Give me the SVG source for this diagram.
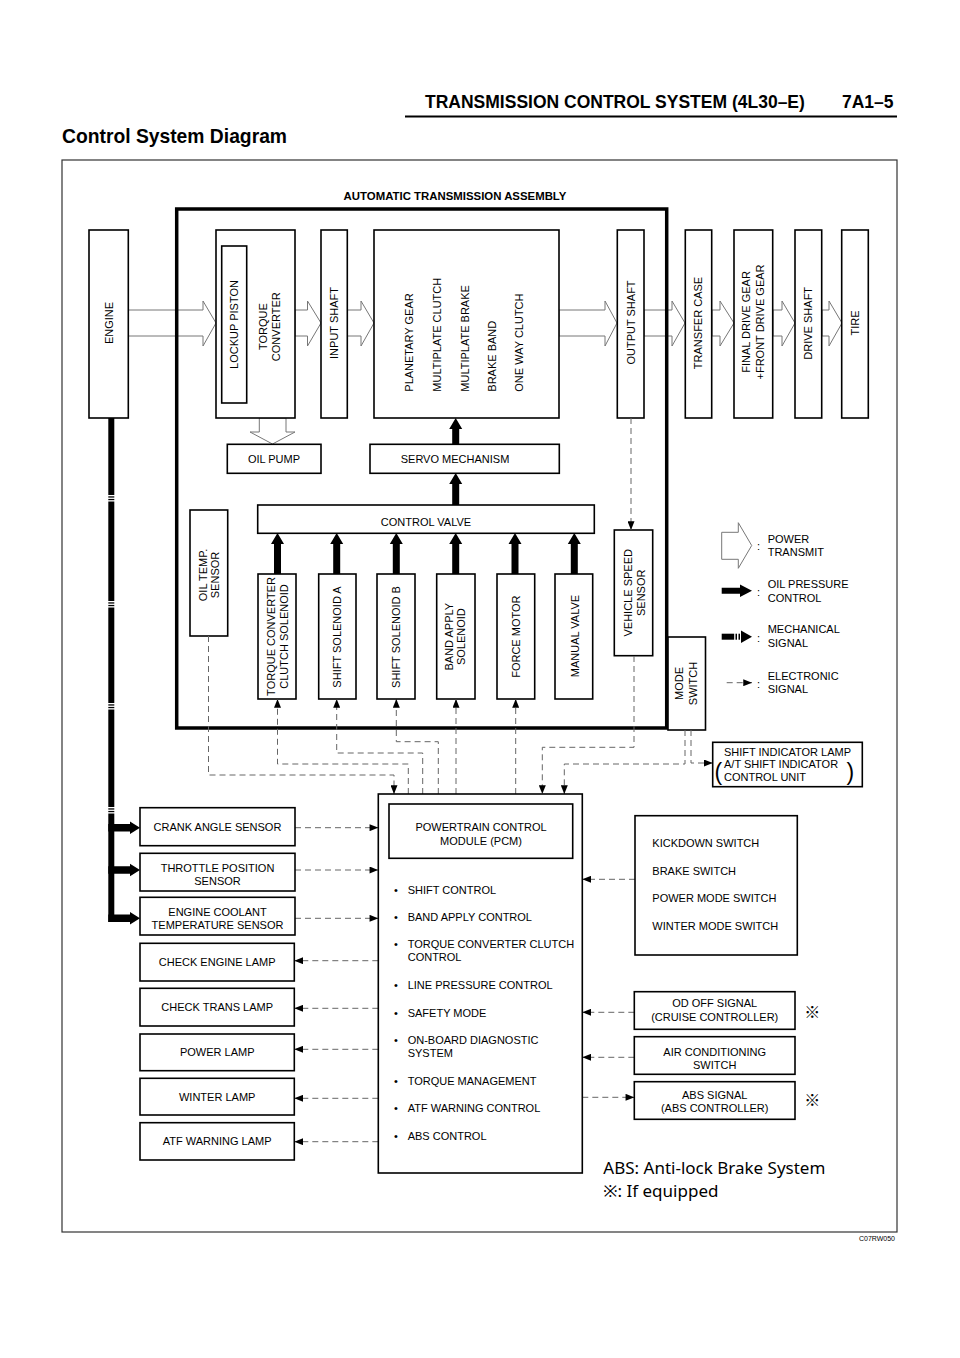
<svg xmlns="http://www.w3.org/2000/svg" width="960" height="1358" viewBox="0 0 960 1358">
<defs>
<style>
text{font-family:"Liberation Sans",Arial,sans-serif;fill:#000}
.t{font-size:11px}
.tm{font-size:11px;text-anchor:middle}
.hb{font-weight:bold}
.box{fill:#fff;stroke:#000;stroke-width:1.6}
.pw{fill:#fff;stroke:#777;stroke-width:1}
.oil{fill:#000}
.el{fill:none;stroke:#666;stroke-width:1;stroke-dasharray:6 4}
</style>
<marker id="ah" viewBox="0 0 10 8" refX="10" refY="4" markerWidth="9" markerHeight="7" orient="auto" markerUnits="userSpaceOnUse"><path d="M0,0 L10,4 L0,8 z" fill="#000"/></marker>
</defs>
<rect width="960" height="1358" fill="#fff"/>

<g id="header">
<text x="425" y="108" class="hb" style="font-size:17.5px">TRANSMISSION CONTROL SYSTEM (4L30–E)</text>
<text x="842" y="108" class="hb" style="font-size:17.5px">7A1–5</text>
<line x1="405" y1="116.5" x2="897" y2="116.5" stroke="#000" stroke-width="2"/>
<text x="62" y="143" class="hb" style="font-size:19.3px">Control System Diagram</text>
</g>

<rect x="62" y="160" width="835" height="1072" fill="none" stroke="#333" stroke-width="1.2"/>

<g id="power-arrows">
<polygon class="pw" points="128,310 203,310 203,301 216,323 203,346 203,336 128,336"/>
<polygon class="pw" points="295,310 307.5,310 307.5,301 321,323 307.5,346 307.5,336 295,336"/>
<polygon class="pw" points="347,310 361,310 361,301 374,323 361,346 361,336 347,336"/>
<polygon class="pw" points="559,310 605,310 605,301 617,323 605,346 605,336 559,336"/>
<polygon class="pw" points="644,310 672,310 672,301 685,323 672,346 672,336 644,336"/>
<polygon class="pw" points="712,310 720,310 720,301 734,323 720,346 720,336 712,336"/>
<polygon class="pw" points="773,310 782,310 782,301 795,323 782,346 782,336 773,336"/>
<polygon class="pw" points="822,310 829,310 829,301 842,323 829,346 829,336 822,336"/>
<polygon class="pw" points="259.3,418 259.3,432 250,432 272.5,444 295,432 286,432 286,418"/>
</g>

<text x="455" y="200" class="tm hb" style="font-size:11.4px">AUTOMATIC TRANSMISSION ASSEMBLY</text>
<rect id="assembly" x="176.7" y="209" width="490" height="519" fill="none" stroke="#000" stroke-width="3.5"/>

<g id="engine"><rect class="box" x="89" y="230" width="39.3" height="188"/>
<text class="tm" dy="0.35em" transform="translate(108.7,323) rotate(-90)">ENGINE</text></g>

<g id="torque-converter"><rect class="box" x="216" y="230" width="79" height="188"/>
<text class="tm" dy="0.35em" transform="translate(263,326.7) rotate(-90)">TORQUE</text>
<text class="tm" dy="0.35em" transform="translate(276,326.7) rotate(-90)">CONVERTER</text></g>
<g id="lockup-piston"><rect class="box" x="221.7" y="246" width="25" height="157"/>
<text class="tm" dy="0.35em" transform="translate(234.2,324.5) rotate(-90)">LOCKUP PISTON</text></g>

<g id="input-shaft"><rect class="box" x="321" y="230" width="26.3" height="188"/>
<text class="tm" dy="0.35em" transform="translate(334.2,323) rotate(-90)">INPUT SHAFT</text></g>

<g id="planetary"><rect class="box" x="374" y="230" width="185" height="188"/>
<text class="t" dy="0.35em" transform="translate(409,391.7) rotate(-90)">PLANETARY GEAR</text>
<text class="t" dy="0.35em" transform="translate(437,391.7) rotate(-90)">MULTIPLATE CLUTCH</text>
<text class="t" dy="0.35em" transform="translate(465,391.7) rotate(-90)">MULTIPLATE BRAKE</text>
<text class="t" dy="0.35em" transform="translate(492.5,391.7) rotate(-90)">BRAKE BAND</text>
<text class="t" dy="0.35em" transform="translate(519.5,391.7) rotate(-90)">ONE WAY CLUTCH</text></g>

<g id="output-shaft"><rect class="box" x="617.3" y="230" width="26.7" height="188"/>
<text class="tm" dy="0.35em" transform="translate(630.7,322.5) rotate(-90)">OUTPUT SHAFT</text></g>

<g id="transfer-case"><rect class="box" x="685.3" y="230" width="26.4" height="188"/>
<text class="tm" dy="0.35em" transform="translate(698.5,323) rotate(-90)">TRANSFER CASE</text></g>

<g id="final-drive"><rect class="box" x="734" y="230" width="38.7" height="188"/>
<text class="tm" dy="0.35em" transform="translate(746.5,322) rotate(-90)">FINAL DRIVE GEAR</text>
<text class="tm" dy="0.35em" transform="translate(760,322) rotate(-90)">+FRONT DRIVE GEAR</text></g>

<g id="drive-shaft"><rect class="box" x="795" y="230" width="26.7" height="188"/>
<text class="tm" dy="0.35em" transform="translate(808.3,323.3) rotate(-90)">DRIVE SHAFT</text></g>

<g id="tire"><rect class="box" x="841.7" y="230" width="26.6" height="188"/>
<text class="tm" dy="0.35em" transform="translate(855,323) rotate(-90)">TIRE</text></g>

<g id="oil-pump"><rect class="box" x="227.3" y="444.3" width="93.7" height="29"/>
<text class="tm" x="274" y="462.8">OIL PUMP</text></g>

<g id="servo"><rect class="box" x="370" y="444.3" width="189.3" height="29"/>
<text class="tm" x="455" y="462.8">SERVO MECHANISM</text></g>

<g id="control-valve"><rect class="box" x="257.7" y="505" width="336.6" height="28.3"/>
<text class="tm" x="426" y="525.5">CONTROL VALVE</text></g>

<g id="oil-temp"><rect class="box" x="190" y="510" width="37.7" height="126"/>
<text class="tm" dy="0.35em" transform="translate(202.7,575) rotate(-90)">OIL TEMP.</text>
<text class="tm" dy="0.35em" transform="translate(215,575) rotate(-90)">SENSOR</text></g>

<g id="tcc-solenoid"><rect class="box" x="258" y="574" width="38" height="125"/>
<text class="tm" dy="0.35em" transform="translate(271.5,636.5) rotate(-90)">TORQUE CONVERTER</text>
<text class="tm" dy="0.35em" transform="translate(284.5,636.5) rotate(-90)">CLUTCH SOLENOID</text></g>

<g id="shift-a"><rect class="box" x="318.7" y="574" width="37.3" height="125"/>
<text class="tm" dy="0.35em" transform="translate(337.3,637) rotate(-90)">SHIFT SOLENOID A</text></g>

<g id="shift-b"><rect class="box" x="377" y="574" width="38" height="125"/>
<text class="tm" dy="0.35em" transform="translate(396,637) rotate(-90)">SHIFT SOLENOID B</text></g>

<g id="band-apply"><rect class="box" x="436.7" y="574" width="38.3" height="125"/>
<text class="tm" dy="0.35em" transform="translate(449,636.7) rotate(-90)">BAND APPLY</text>
<text class="tm" dy="0.35em" transform="translate(461.5,636.7) rotate(-90)">SOLENOID</text></g>

<g id="force-motor"><rect class="box" x="497" y="574" width="37.7" height="125"/>
<text class="tm" dy="0.35em" transform="translate(515.8,636.7) rotate(-90)">FORCE MOTOR</text></g>

<g id="manual-valve"><rect class="box" x="555" y="574" width="37.7" height="125"/>
<text class="tm" dy="0.35em" transform="translate(574.7,636) rotate(-90)">MANUAL VALVE</text></g>

<g id="vss"><rect class="box" x="614.3" y="530" width="38.4" height="125.7"/>
<text class="tm" dy="0.35em" transform="translate(628.3,592.8) rotate(-90)">VEHICLE SPEED</text>
<text class="tm" dy="0.35em" transform="translate(641,592.8) rotate(-90)">SENSOR</text></g>

<g id="mode-switch"><rect class="box" x="668" y="637" width="37.5" height="93"/>
<text class="tm" dy="0.35em" transform="translate(679,683.5) rotate(-90)">MODE</text>
<text class="tm" dy="0.35em" transform="translate(693,683.5) rotate(-90)">SWITCH</text></g>

<g id="oil-arrows">
<polygon class="oil" points="274,574 274,544 271,544 277.5,533 284,544 281,544 281,574"/>
<polygon class="oil" points="333.2,574 333.2,544 330.2,544 336.7,533 343.2,544 340.2,544 340.2,574"/>
<polygon class="oil" points="392.8,574 392.8,544 389.8,544 396.3,533 402.8,544 399.8,544 399.8,574"/>
<polygon class="oil" points="452.2,574 452.2,544 449.2,544 455.7,533 462.2,544 459.2,544 459.2,574"/>
<polygon class="oil" points="511.5,574 511.5,544 508.5,544 515,533 521.5,544 518.5,544 518.5,574"/>
<polygon class="oil" points="570.8,574 570.8,544 567.8,544 574.3,533 580.8,544 577.8,544 577.8,574"/>
<polygon class="oil" points="452.2,505 452.2,484 449.2,484 455.7,473 462.2,484 459.2,484 459.2,505"/>
<polygon class="oil" points="452.2,444 452.2,429 449.2,429 455.7,418 462.2,429 459.2,429 459.2,444"/>
</g>

<g id="mechanical">
<rect x="108.3" y="418" width="6" height="504" fill="#000"/>
<g fill="#fff">
<rect x="107" y="495" width="9" height="1.3"/><rect x="107" y="497.6" width="9" height="1.3"/><rect x="107" y="500.2" width="9" height="1.3"/>
<rect x="107" y="601" width="9" height="1.3"/><rect x="107" y="603.6" width="9" height="1.3"/><rect x="107" y="606.2" width="9" height="1.3"/>
<rect x="107" y="703" width="9" height="1.3"/><rect x="107" y="705.6" width="9" height="1.3"/><rect x="107" y="708.2" width="9" height="1.3"/>
<rect x="107" y="807" width="9" height="1.3"/><rect x="107" y="809.6" width="9" height="1.3"/><rect x="107" y="812.2" width="9" height="1.3"/>
</g>
<polygon class="oil" points="108.3,824 130,824 130,821.5 140,827.7 130,834 130,831.5 108.3,831.5"/>
<polygon class="oil" points="108.3,866.3 130,866.3 130,863.8 140,870 130,876.3 130,873.8 108.3,873.8"/>
<polygon class="oil" points="108.3,914.5 130,914.5 130,912 140,918.3 130,924.5 130,922 108.3,922"/>
</g>

<g id="connectors">
<path class="el" d="M631,418 V530" marker-end="url(#ah)"/>
<path class="el" d="M208.5,636 V775 H394 V794" marker-end="url(#ah)"/>
<path class="el" d="M408.3,794 V764 H277.5 V699" marker-end="url(#ah)"/>
<path class="el" d="M422.7,794 V753 H336.7 V699" marker-end="url(#ah)"/>
<path class="el" d="M438.3,794 V741.7 H396.3 V699" marker-end="url(#ah)"/>
<path class="el" d="M456,794 V699" marker-end="url(#ah)"/>
<path class="el" d="M515.7,794 V699" marker-end="url(#ah)"/>
<path class="el" d="M634,656 V747.3 H542.3 V794" marker-end="url(#ah)"/>
<path class="el" d="M685,730 V764 H564.3 V794" marker-end="url(#ah)"/>
<path class="el" d="M691,730 V763 H712.7" marker-end="url(#ah)"/>
<path class="el" d="M295,827.7 H378.3" marker-end="url(#ah)"/>
<path class="el" d="M295,870 H378.3" marker-end="url(#ah)"/>
<path class="el" d="M295,918.3 H378.3" marker-end="url(#ah)"/>
<path class="el" d="M378.3,960.7 H294.3" marker-end="url(#ah)"/>
<path class="el" d="M378.3,1008.3 H294.3" marker-end="url(#ah)"/>
<path class="el" d="M378.3,1049.3 H294.3" marker-end="url(#ah)"/>
<path class="el" d="M378.3,1098.3 H294.3" marker-end="url(#ah)"/>
<path class="el" d="M378.3,1141.7 H294.3" marker-end="url(#ah)"/>
<path class="el" d="M635,879.3 H582.3" marker-end="url(#ah)"/>
<path class="el" d="M634.3,1012.3 H582.3" marker-end="url(#ah)"/>
<path class="el" d="M634.3,1057.3 H582.3" marker-end="url(#ah)"/>
<path class="el" d="M582.3,1097.3 H634.3" marker-end="url(#ah)"/>
</g>

<g id="shift-indicator-lamp"><rect class="box" x="712.7" y="742.3" width="149.6" height="44.4"/>
<text class="tm" x="787.5" y="755.5">SHIFT INDICATOR LAMP</text>
<text class="t" x="724" y="768.3">A/T SHIFT INDICATOR</text>
<text class="t" x="724" y="780.5">CONTROL UNIT</text>
<text x="714.5" y="780" style="font-size:23px;font-weight:300">(</text>
<text x="846.5" y="780" style="font-size:23px;font-weight:300">)</text></g>

<g id="crank"><rect class="box" x="140" y="807.7" width="155" height="38"/>
<text class="tm" x="217.5" y="830.7">CRANK ANGLE SENSOR</text></g>
<g id="throttle"><rect class="box" x="140" y="853.3" width="155" height="37.7"/>
<text class="tm" x="217.5" y="872">THROTTLE POSITION</text>
<text class="tm" x="217.5" y="885">SENSOR</text></g>
<g id="coolant"><rect class="box" x="140" y="897.3" width="155" height="37.7"/>
<text class="tm" x="217.5" y="915.5">ENGINE COOLANT</text>
<text class="tm" x="217.5" y="929">TEMPERATURE SENSOR</text></g>

<g id="check-engine"><rect class="box" x="140" y="943.3" width="154.3" height="37.7"/>
<text class="tm" x="217.2" y="966">CHECK ENGINE LAMP</text></g>
<g id="check-trans"><rect class="box" x="140" y="988.3" width="154.3" height="37.7"/>
<text class="tm" x="217.2" y="1011">CHECK TRANS LAMP</text></g>
<g id="power-lamp"><rect class="box" x="140" y="1034" width="154.3" height="36.7"/>
<text class="tm" x="217.2" y="1056.3">POWER LAMP</text></g>
<g id="winter-lamp"><rect class="box" x="140" y="1078.3" width="154.3" height="36.7"/>
<text class="tm" x="217.2" y="1100.7">WINTER LAMP</text></g>
<g id="atf-lamp"><rect class="box" x="140" y="1122.7" width="154.3" height="37.3"/>
<text class="tm" x="217.2" y="1145.3">ATF WARNING LAMP</text></g>

<g id="pcm"><rect class="box" x="378.3" y="794" width="204" height="379"/>
<rect class="box" x="389" y="804" width="183.7" height="54.3"/>
<text class="tm" x="481" y="830.5">POWERTRAIN CONTROL</text>
<text class="tm" x="481" y="844.5">MODULE (PCM)</text>
<g class="t">
<text x="394" y="894">•</text><text x="407.7" y="894">SHIFT CONTROL</text>
<text x="394" y="921.3">•</text><text x="407.7" y="921.3">BAND APPLY CONTROL</text>
<text x="394" y="948">•</text><text x="407.7" y="948">TORQUE CONVERTER CLUTCH</text>
<text x="407.7" y="961.3">CONTROL</text>
<text x="394" y="989">•</text><text x="407.7" y="989">LINE PRESSURE CONTROL</text>
<text x="394" y="1016.7">•</text><text x="407.7" y="1016.7">SAFETY MODE</text>
<text x="394" y="1044">•</text><text x="407.7" y="1044">ON-BOARD DIAGNOSTIC</text>
<text x="407.7" y="1057.3">SYSTEM</text>
<text x="394" y="1084.7">•</text><text x="407.7" y="1084.7">TORQUE MANAGEMENT</text>
<text x="394" y="1112.3">•</text><text x="407.7" y="1112.3">ATF WARNING CONTROL</text>
<text x="394" y="1139.7">•</text><text x="407.7" y="1139.7">ABS CONTROL</text>
</g></g>

<g id="switches"><rect class="box" x="635" y="815.7" width="162.3" height="139.3"/>
<text class="t" x="652.3" y="847.3">KICKDOWN SWITCH</text>
<text class="t" x="652.3" y="874.7">BRAKE SWITCH</text>
<text class="t" x="652.3" y="902.3">POWER MODE SWITCH</text>
<text class="t" x="652.3" y="930">WINTER MODE SWITCH</text></g>

<g id="od-off"><rect class="box" x="634.3" y="991.7" width="160.7" height="37.6"/>
<text class="tm" x="714.7" y="1007.3">OD OFF SIGNAL</text>
<text class="tm" x="714.7" y="1020.7">(CRUISE CONTROLLER)</text></g>
<g id="air-con"><rect class="box" x="634.3" y="1036.7" width="160.7" height="37.6"/>
<text class="tm" x="714.7" y="1055.7">AIR CONDITIONING</text>
<text class="tm" x="714.7" y="1069">SWITCH</text></g>
<g id="abs-signal"><rect class="box" x="634.3" y="1081.7" width="160.7" height="37.6"/>
<text class="tm" x="714.7" y="1099">ABS SIGNAL</text>
<text class="tm" x="714.7" y="1112.3">(ABS CONTROLLER)</text></g>
<text x="812.3" y="1017.5" style="font-size:16px;text-anchor:middle;font-family:'Noto Sans CJK JP',sans-serif">※</text>
<text x="812.3" y="1105.5" style="font-size:16px;text-anchor:middle;font-family:'Noto Sans CJK JP',sans-serif">※</text>

<g id="legend">
<polygon class="pw" points="721.7,532.3 738.3,532.3 738.3,522.7 751.7,545.5 738.3,568.3 738.3,559.3 721.7,559.3"/>
<text class="t" x="757" y="550">:</text>
<text class="t" x="767.7" y="542.7">POWER</text>
<text class="t" x="767.7" y="555.5">TRANSMIT</text>
<polygon class="oil" points="721.7,587.7 740,587.7 740,584.5 752,590.7 740,597 740,593.7 721.7,593.7"/>
<text class="t" x="757" y="596">:</text>
<text class="t" x="767.7" y="588.3">OIL PRESSURE</text>
<text class="t" x="767.7" y="601.7">CONTROL</text>
<rect x="721.7" y="633.7" width="12.5" height="6" fill="#000"/>
<rect x="735.5" y="633.7" width="1.5" height="6" fill="#000"/>
<rect x="738.5" y="633.7" width="1.5" height="6" fill="#000"/>
<polygon class="oil" points="741,630.5 752,636.7 741,643"/>
<text class="t" x="757" y="642">:</text>
<text class="t" x="767.7" y="633.3">MECHANICAL</text>
<text class="t" x="767.7" y="647.3">SIGNAL</text>
<path class="el" d="M726.7,682.7 H752" marker-end="url(#ah)"/>
<text class="t" x="757" y="688">:</text>
<text class="t" x="767.7" y="680">ELECTRONIC</text>
<text class="t" x="767.7" y="693.3">SIGNAL</text>
</g>

<g id="notes">
<text x="603.3" y="1174" style="font-size:17px;font-family:'Noto Sans','Liberation Sans',sans-serif">ABS: Anti-lock Brake System</text>
<text x="603.3" y="1197" style="font-size:17px;font-family:'Noto Sans','Noto Sans CJK JP',sans-serif">※: If equipped</text>
<text x="895" y="1241" style="font-size:7px;text-anchor:end">C07RW050</text>
</g>
</svg>
